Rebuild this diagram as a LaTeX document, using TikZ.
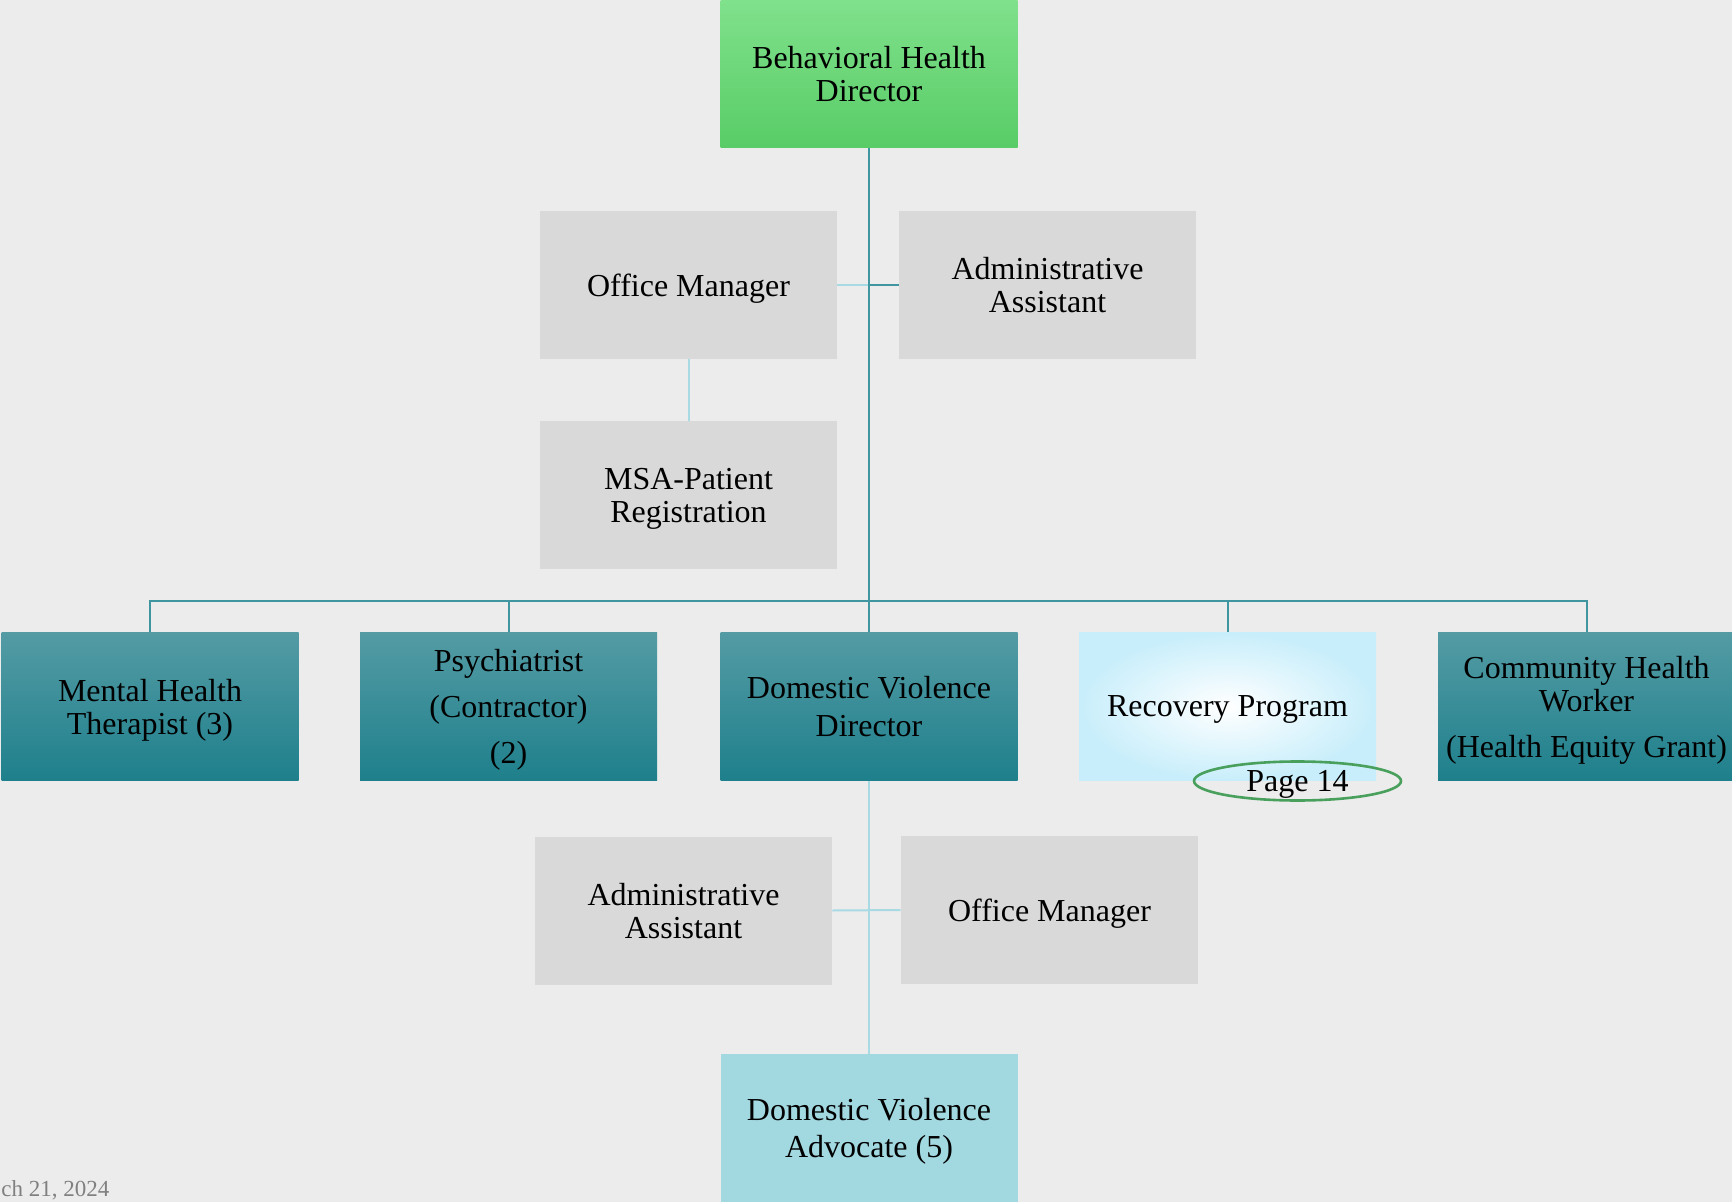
\documentclass[tikz,border=0pt]{standalone}
\usepackage{fontspec}
\setmainfont{Liberation Serif}
\usepackage{tikz}
\usetikzlibrary{positioning, shapes.geometric, calc}

\definecolor{paper}{RGB}{236,236,236}
\definecolor{boxgray}{RGB}{217,217,217}
\definecolor{greentop}{RGB}{128,225,140}
\definecolor{greenbot}{RGB}{88,204,102}
\definecolor{tealtop}{RGB}{84,155,164}
\definecolor{tealbot}{RGB}{30,128,140}
\definecolor{paleblue}{RGB}{162,216,224}
\definecolor{skyblue}{RGB}{200,238,251}
\definecolor{linkdark}{RGB}{64,150,160}
\definecolor{linklight}{RGB}{168,218,228}
\definecolor{ovalgreen}{RGB}{72,160,92}

\tikzset{
    unit/.style={rectangle, inner sep=0pt, align=center, text depth=0pt,
        minimum width=148.5pt, minimum height=74pt,
        font=\fontsize{16}{16.5}\selectfont},
    headbox/.style={unit, top color=greentop, bottom color=greenbot},
    graybox/.style={unit, fill=boxgray},
    tealbox/.style={unit, top color=tealtop, bottom color=tealbot},
    glowbox/.style={unit, inner color=white, outer color=skyblue},
    palebox/.style={unit, fill=paleblue},
    link/.style={draw=linkdark, line width=1pt},
    lightlink/.style={draw=linklight, line width=1pt}
}

\begin{document}
\begin{tikzpicture}[x=0.5pt, y=-0.5pt]
    \useasboundingbox (0,0) rectangle (1732,1202);
    \fill[paper] (0,0) rectangle (1732,1202);

    % top of the chart
    \node[headbox] (bhd) at (869,74) {Behavioral Health\\Director};
    \node[graybox] (offmgr) at (688.5,285) {Office Manager};
    \node[graybox] (admasst) at (1047.5,285) {Administrative\\Assistant};
    \node[graybox] (msa) at (688.5,495) {MSA-Patient\\Registration};

    % main row
    \node[tealbox] (mht) at (150,706.5) {Mental Health\\Therapist (3)};
    \node[tealbox] (psych) at (508.5,706.5) {Psychiatrist\\[6.5pt](Contractor)\\[6.5pt](2)};
    \node[tealbox, text depth=-4.4pt] (dvd) at (869,706.5) {Domestic Violence\\[2.5pt]Director};
    \node[glowbox] (recov) at (1227.5,706.5) {Recovery Program};
    \node[tealbox] (chw) at (1586.5,706.5) {Community Health\\Worker\\[6.5pt](Health Equity Grant)};
    \node[ellipse, draw=ovalgreen, line width=1.3pt, inner sep=0pt, text depth=0pt,
        minimum width=103.5pt, minimum height=19.5pt,
        font=\fontsize{16}{16.5}\selectfont] (page) at (1297.5,781) {Page 14};

    % under the domestic violence director
    \node[graybox] (dvadm) at (683.5,910.5) {Administrative\\Assistant};
    \node[graybox] (dvoff) at (1049.5,910) {Office Manager};
    \node[palebox, text depth=-4.4pt] (dvadv) at (869,1128) {Domestic Violence\\[2pt]Advocate (5)};

    \coordinate (bus) at (869,601);

    \draw[lightlink] (offmgr.east) -- (bhd.south |- offmgr.east);
    \draw[link] (admasst.west) -- (bhd.south |- admasst.west);
    \draw[lightlink] (offmgr) -- (msa);
    \draw[link] (bhd.south) -- (dvd.north);
    \foreach \n in {mht,psych,recov,chw}
    {
        \draw[link] (bus) -| (\n.north);
    }

    \draw[lightlink] (dvd) -- (dvadv);
    \draw[lightlink] (dvadm.east) -- (dvoff.west);

    \node[anchor=base west, inner sep=0pt, text=gray,
        font=\fontsize{11.5}{13}\selectfont] (date) at (1,1196) {ch 21, 2024};
\end{tikzpicture}
\end{document}
